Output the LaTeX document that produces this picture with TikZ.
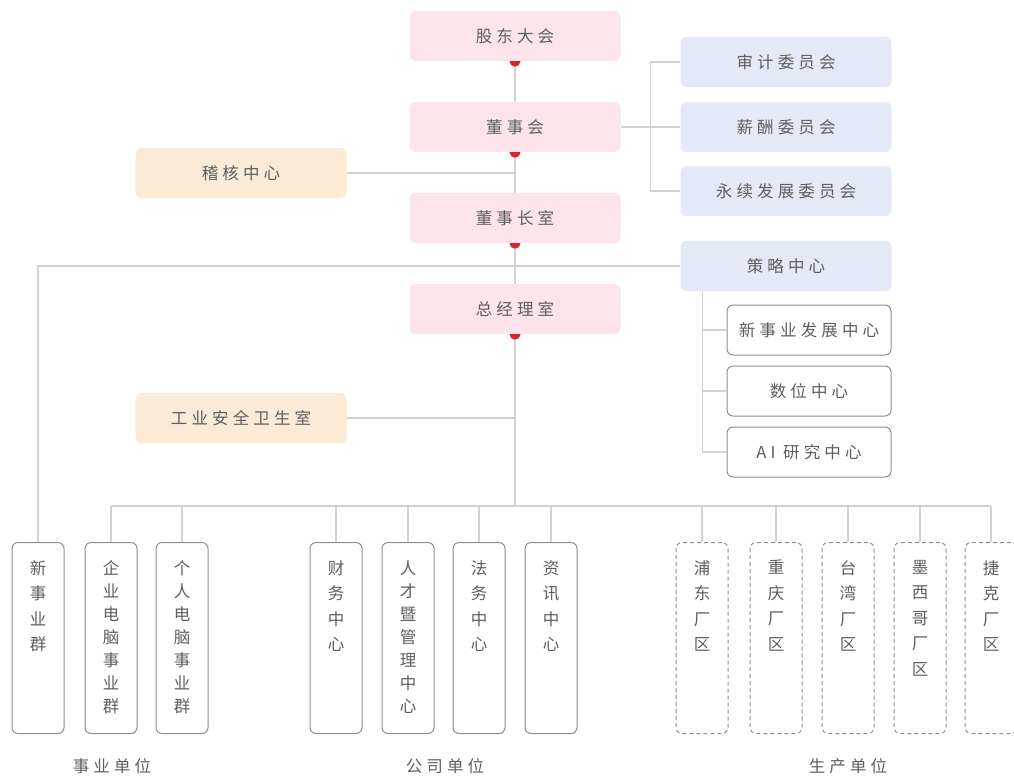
\documentclass[tikz,border=0pt]{standalone}
\usepackage{fontspec}
\newfontfamily\cjk{Noto Sans CJK SC}[LetterSpace=25]
\newfontfamily\cjkcol{Noto Sans CJK SC}
\usetikzlibrary{positioning}

\definecolor{boardpink}{HTML}{FCE4EA}
\definecolor{committeeblue}{HTML}{E4E9F5}
\definecolor{staffbeige}{HTML}{FAEAD6}
\definecolor{linegray}{HTML}{D2D2D2}
\definecolor{boxgray}{HTML}{8E8E8E}
\definecolor{textgray}{HTML}{5E5E5E}
\definecolor{dotred}{HTML}{D9232E}

\begin{document}
\begin{tikzpicture}[x=1pt,y=1pt,
    every node/.style={text=textgray,font=\cjk\fontsize{16.5}{18}\selectfont},
    box/.style={rounded corners=6pt,minimum width=211pt,minimum height=50pt,inner sep=0pt},
    board/.style={box,fill=boardpink},
    committee/.style={box,fill=committeeblue},
    staff/.style={box,fill=staffbeige},
    subcenter/.style={box,draw=boxgray,line width=1pt,fill=white,minimum width=164pt},
    unitcol/.style={draw=boxgray,line width=1pt,rounded corners=6pt,minimum width=52pt,
      minimum height=191pt,anchor=north,inner sep=0pt},
    plant/.style={unitcol,dash pattern=on 4pt off 3pt},
    colchar/.style={anchor=north,align=center,inner sep=0pt,yshift=-18pt,
      font=\cjkcol\fontsize{16.5}{#1}\selectfont},
    colchar/.default=25.5,
    link/.style={draw=linegray,line width=1.2pt}]

  \useasboundingbox (0,0) rectangle (1014,-777);

  % main line
  \begin{scope}[every node/.append style={board}]
    \node (gd)  at (515,-36)  {股东大会};
    \node (dsh) at (515,-127) {董事会};
    \node (dsz) at (515,-218) {董事长室};
    \node (zjl) at (515,-309) {总经理室};
  \end{scope}

  \begin{scope}[every node/.append style={staff}]
    \node (jh) at (241,-173) {稽核中心};
    \node (gy) at (241,-418) {工业安全卫生室};
  \end{scope}

  \begin{scope}[every node/.append style={committee}]
    \node (sj) at (786,-62)  {审计委员会};
    \node (xc) at (786,-127) {薪酬委员会};
    \node (ys) at (786,-191) {永续发展委员会};
    \node (cl) at (786,-266) {策略中心};
  \end{scope}

  \begin{scope}[every node/.append style={subcenter}]
    \node (xf) at (809,-330) {新事业发展中心};
    \node (sw) at (809,-391) {数位中心};
    \node (ai) at (809,-452) {AI 研究中心};
  \end{scope}

  % units
  \node[unitcol,label={[colchar]north:{新\\事\\业\\群}}] (xsy) at (38,-542) {};
  \node[unitcol,label={[colchar=23]north:{企\\业\\电\\脑\\事\\业\\群}}] (qy) at (111,-542) {};
  \node[unitcol,label={[colchar=23]north:{个\\人\\电\\脑\\事\\业\\群}}] (gr) at (182,-542) {};
  \node[unitcol,label={[colchar]north:{财\\务\\中\\心}}] (cw) at (336,-542) {};
  \node[unitcol,label={[colchar=23]north:{人\\才\\暨\\管\\理\\中\\心}}] (rc) at (408,-542) {};
  \node[unitcol,label={[colchar]north:{法\\务\\中\\心}}] (fw) at (479,-542) {};
  \node[unitcol,label={[colchar]north:{资\\讯\\中\\心}}] (zx) at (551,-542) {};
  \node[plant,label={[colchar]north:{浦\\东\\厂\\区}}] (pd) at (702,-542) {};
  \node[plant,label={[colchar]north:{重\\庆\\厂\\区}}] (cq) at (776,-542) {};
  \node[plant,label={[colchar]north:{台\\湾\\厂\\区}}] (tw) at (848,-542) {};
  \node[plant,label={[colchar]north:{墨\\西\\哥\\厂\\区}}] (mx) at (920,-542) {};
  \node[plant,label={[colchar]north:{捷\\克\\厂\\区}}] (jk) at (991,-542) {};

  \node (sy) at (112,-766) {事业单位};
  \node (gs) at (445,-766) {公司单位};
  \node (sc) at (848,-766) {生产单位};

  % connectors
  \path[link] (gd.south) -- (dsh.north);
  \path[link] (dsh.south) -- (dsz.north);
  \path[link] (dsz.south) -- (zjl.north);
  \coordinate (bus) at (0,-506);
  \path[link] (zjl.south) -- (zjl.south |- bus);
  \path[link] (jh.east) -- (jh.east -| dsh.south);
  \path[link] (gy.east) -- (gy.east -| zjl.south);

  \path[link] (dsh.east) -- (xc.west);
  \path[link] (sj.west) -- ++(-30,0) |- (ys.west);

  \path[link] (cl.west) -| (xsy.north);
  \path[link] ([xshift=22pt]cl.south west) |- (ai.west);
  \path[link] ([xshift=22pt]cl.south west |- xf.west) -- (xf.west);
  \path[link] ([xshift=22pt]cl.south west |- sw.west) -- (sw.west);

  \path[link] (qy.north |- bus) -- (jk.north |- bus);
  \foreach \u in {qy,gr,cw,rc,fw,zx,pd,cq,tw,mx,jk}
    \path[link] (\u.north |- bus) -- (\u.north);

  % red dots
  \foreach \b in {gd,dsh,dsz,zjl}
    \fill[dotred] (\b.south) ++(-5.5,0) arc[start angle=180,end angle=360,radius=5.5] -- cycle;

\end{tikzpicture}
\end{document}
